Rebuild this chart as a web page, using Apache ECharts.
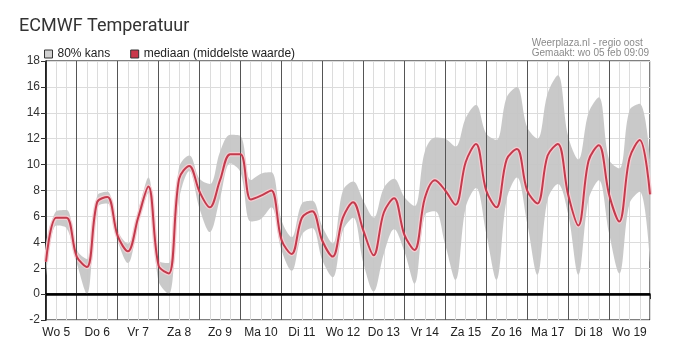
<!DOCTYPE html>
<html>
<head>
<meta charset="utf-8">
<script src="https://cdn.jsdelivr.net/npm/echarts@6/dist/echarts.min.js"></script>
<style>
html, body { margin: 0; padding: 0; background: #fff; }
#chart { width: 676px; height: 354px; }
</style>
</head>
<body>
<div id="chart"></div>
<script>
// 6-hourly steps, starting wo 5 feb 06:00 (hour 6) until do 20 00:00 (hour 360)
var startHour = 6;
var stepHours = 6;

var dayLabels = ['Wo 5', 'Do 6', 'Vr 7', 'Za 8', 'Zo 9', 'Ma 10', 'Di 11',
    'Wo 12', 'Do 13', 'Vr 14', 'Za 15', 'Zo 16', 'Ma 17', 'Di 18', 'Wo 19'];

var mediaan = [2.5, 5.9, 5.9,
    2.9, 2.1, 7.1, 7.5,
    4.5, 3.3, 5.9, 8.3,
    2.2, 1.6, 8.9, 9.9,
    7.9, 6.7, 8.8, 10.8,
    10.8, 7.3, 7.6, 8.0,
    4.2, 3.1, 5.9, 6.4,
    4.1, 2.9, 5.9, 7.1,
    4.9, 3.0, 6.3, 7.4,
    4.6, 3.4, 7.4, 8.8,
    8.0, 6.9, 10.2, 11.6,
    8.0, 6.7, 10.4, 11.2,
    8.0, 7.0, 10.7, 11.6,
    7.7, 5.3, 10.3, 11.5,
    7.7, 5.6, 10.5, 11.9,
    7.7];

var boven = [3.3, 6.4, 6.5,
    3.4, 2.6, 7.6, 7.9,
    4.9, 3.9, 6.4, 9.0,
    2.6, 2.4, 9.8, 10.7,
    8.9, 8.5, 11.0, 12.3,
    12.2, 8.8, 9.3, 9.4,
    5.7, 4.4, 7.0, 7.2,
    5.2, 3.9, 8.0, 8.7,
    7.2, 5.9, 8.2, 8.9,
    7.5, 6.8, 11.0, 12.1,
    12.0, 11.4, 13.6, 14.6,
    12.4, 11.9, 15.2, 16.0,
    12.9, 12.0, 15.5, 16.9,
    12.2, 10.4, 14.0, 15.2,
    10.4, 9.7, 14.2, 14.7,
    10.4];

var onder = [1.3, 5.3, 5.1,
    2.4, -0.1, 6.7, 7.0,
    4.1, 2.4, 5.4, 7.8,
    1.0, 0.0, 7.3, 9.5,
    6.6, 4.8, 7.4, 10.1,
    9.4, 5.6, 5.8, 6.7,
    3.4, 1.8, 4.6, 5.1,
    2.6, 1.3, 4.9, 5.9,
    2.4, 0.2, 3.1, 5.0,
    3.3, 0.8, 6.1, 6.4,
    3.8, 1.1, 6.7, 8.2,
    4.7, 1.1, 7.3, 9.0,
    5.5, 1.5, 7.3, 8.5,
    6.2, 1.5, 7.3, 8.8,
    4.7, 1.6, 7.0, 7.9,
    2.5];

var yMin = -2, yMax = 18, yStep = 2;

// hour stamps of the samples, used as categories
var uren = mediaan.map(function (v, i) { return String(startHour + i * stepHours); });
function isDayStart(i) { return (startHour + i * stepHours) % 24 === 0; }
function isNoon(i) { return (startHour + i * stepHours) % 24 === 12; }

var dayLines = [];
uren.forEach(function (u, i) {
    if (isDayStart(i) && i < uren.length - 1) dayLines.push({ xAxis: u });
});

var bandWidth = boven.map(function (v, i) { return +(v - onder[i]).toFixed(2); });

var dom = document.getElementById('chart');
var myChart = echarts.init(dom);

var option = {
    animation: false,
    backgroundColor: '#fff',
    title: {
        text: 'ECMWF Temperatuur',
        left: 14,
        top: 12,
        textStyle: { fontFamily: 'Roboto', fontSize: 18, fontWeight: 'normal', color: '#333' }
    },
    graphic: [
        {
            type: 'text', right: 27, top: 38,
            style: {
                text: 'Weerplaza.nl - regio oost\nGemaakt: wo 05 feb 09:09',
                font: '10px "Liberation Sans"', fill: '#8a8a8a', align: 'right', lineHeight: 10
            }
        }
    ],
    legend: {
        left: 39,
        top: 43,
        itemWidth: 8,
        itemHeight: 8,
        itemGap: 20,
        icon: 'rect',
        textStyle: { fontFamily: 'Liberation Sans', fontSize: 12, color: '#222' },
        data: [
            { name: '80% kans', itemStyle: { color: '#d0d0d0', borderColor: '#333', borderWidth: 1 } },
            { name: 'mediaan (middelste waarde)', itemStyle: { color: '#c8384a', borderColor: '#333', borderWidth: 1 } }
        ]
    },
    grid: {
        left: 46, right: 26, top: 61, bottom: 34,
        show: true, borderColor: '#000', borderWidth: 1
    },
    xAxis: {
        type: 'category', data: uren, boundaryGap: false,
        axisLine: { show: true, lineStyle: { color: '#000', width: 1.5 } },
        axisTick: {
            show: true, length: 5, lineStyle: { color: '#333' },
            interval: function (i) { return isDayStart(i); }
        },
        axisLabel: {
            fontFamily: 'Liberation Sans', fontSize: 12, color: '#222', margin: 7,
            interval: function (i) { return isNoon(i); },
            formatter: function (v) { return dayLabels[Math.floor(+v / 24)]; }
        },
        splitLine: { show: true, interval: 0, lineStyle: { color: '#dcdcdc', width: 1 } }
    },
    yAxis: {
        type: 'value', min: yMin, max: yMax, interval: yStep,
        axisLine: { show: true, lineStyle: { color: '#000', width: 1.5 } },
        axisTick: { show: true, length: 5, lineStyle: { color: '#333' } },
        axisLabel: { fontFamily: 'Liberation Sans', fontSize: 12, color: '#333', margin: 6 },
        splitLine: { show: true, lineStyle: { color: '#dcdcdc' } }
    },
    series: [
        {
            name: 'onder', type: 'line', stack: 'band', data: onder,
            smooth: 0.35, symbol: 'none', lineStyle: { opacity: 0 }, z: 2, silent: true
        },
        {
            name: '80% kans', type: 'line', stack: 'band', data: bandWidth,
            smooth: 0.35, symbol: 'none', lineStyle: { opacity: 0 },
            areaStyle: { color: '#c4c4c4', opacity: 0.92 }, itemStyle: { color: '#d0d0d0' }, z: 2, silent: true
        },
        {
            name: 'lijnen', type: 'line', data: [], z: 3, silent: true,
            markLine: {
                silent: true, symbol: 'none', label: { show: false },
                lineStyle: { color: '#555', width: 1, type: 'solid' },
                data: dayLines.concat([{ yAxis: 0, lineStyle: { color: '#000', width: 2.5 } }])
            }
        },
        {
            name: 'halo', type: 'line', data: mediaan, smooth: 0.35, symbol: 'none',
            lineStyle: { color: '#f5cdd2', width: 4.5 }, z: 4, silent: true
        },
        {
            name: 'mediaan (middelste waarde)', type: 'line', data: mediaan, smooth: 0.35, symbol: 'none',
            lineStyle: { color: '#c23b4d', width: 2 }, itemStyle: { color: '#c8384a' }, z: 5, silent: true
        }
    ]
};
myChart.setOption(option);
</script>
</body>
</html>
